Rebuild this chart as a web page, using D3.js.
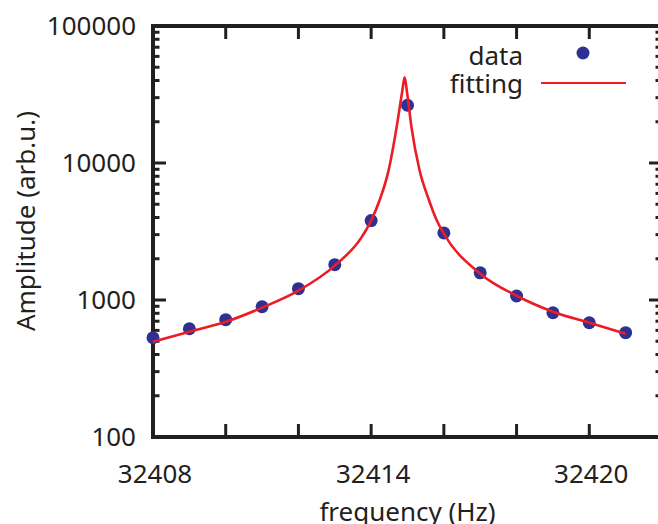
<!DOCTYPE html>
<html>
<head>
<meta charset="utf-8">
<script src="https://cdn.jsdelivr.net/npm/d3@7"></script>
<style>
  html, body { margin: 0; padding: 0; background: #fff; }
  svg { display: block; font-family: "Noto Sans", "Open Sans", sans-serif; }
</style>
</head>
<body>
<svg id="chart"></svg>
<script>
// measured points (frequency in Hz, amplitude in arb.u.)
const dataFreq = [32408, 32409, 32410, 32411, 32412, 32413, 32414, 32415, 32416, 32417, 32418, 32419, 32420, 32421];
const dataAmp  = [530, 617, 718, 893, 1210, 1812, 3800, 26400, 3090, 1580, 1070, 807, 682, 577];

// fitted curve
const fitFreq = [32408.0, 32409.0, 32410.0, 32411.0, 32412.0, 32413.0, 32413.73, 32414.0, 32414.23, 32414.48, 32414.70, 32414.86, 32414.92, 32414.99, 32415.11, 32415.33, 32415.58, 32415.80, 32416.0, 32417.0, 32418.0, 32419.0, 32420.0, 32421.0];
const fitAmp  = [495, 586, 693, 879, 1170, 1782, 2855, 3800, 5320, 8830, 18200, 34000, 42300, 32400, 18200, 8890, 5460, 3840, 3055, 1556, 1074, 821, 682, 567];

const xTicks = [32408, 32410, 32412, 32414, 32416, 32418, 32420, 32422];
const xLabels = [32408, 32414, 32420];
const yLabels = [100, 1000, 10000, 100000];

const width = 658, height = 524;
const ink = "#231f20";
const blue = "#2e3192";
const red = "#ed1c24";

const svg = d3.select("#chart")
    .attr("width", width)
    .attr("height", height)
    .attr("viewBox", [0, 0, width, height]);

const x = d3.scaleLinear()
    .domain([32408, 32422])
    .range([153, 662]);

const y = d3.scaleLog()
    .domain([100, 100000])
    .range([437, 26]);

// minor ticks on the log axis (2..9 of each decade)
const yMinor = y.ticks().filter(v => !yLabels.includes(v));

const ticks = svg.append("g")
    .attr("stroke", ink)
    .attr("stroke-width", 3);

// x ticks, bottom and top (inside)
ticks.append("g").selectAll("line")
    .data(xTicks.slice(1, -1))
    .join("line")
    .attr("x1", d => x(d)).attr("x2", d => x(d))
    .attr("y1", y(100)).attr("y2", y(100) - 13);

ticks.append("g").selectAll("line")
    .data(xTicks.slice(1, -1))
    .join("line")
    .attr("x1", d => x(d)).attr("x2", d => x(d))
    .attr("y1", y(100000)).attr("y2", y(100000) + 13);

// y ticks, left and right
[[x.range()[0], 1], [x.range()[1], -1]].forEach(([x0, dir]) => {
    ticks.append("g").selectAll("line")
        .data(yLabels.slice(1, -1))
        .join("line")
        .attr("x1", x0).attr("x2", x0 + dir * 13)
        .attr("y1", d => y(d)).attr("y2", d => y(d));
    ticks.append("g").selectAll("line")
        .data(yMinor)
        .join("line")
        .attr("x1", x0).attr("x2", x0 + dir * 6.5)
        .attr("y1", d => y(d)).attr("y2", d => y(d));
});

// frame
svg.append("rect")
    .attr("x", x.range()[0])
    .attr("y", y.range()[1])
    .attr("width", x.range()[1] - x.range()[0])
    .attr("height", y.range()[0] - y.range()[1])
    .attr("fill", "none")
    .attr("stroke", ink)
    .attr("stroke-width", 4);

// tick labels
svg.append("g")
    .attr("fill", ink)
    .style("font-size", "26px")
    .attr("text-anchor", "end")
    .selectAll("text")
    .data(yLabels)
    .join("text")
    .attr("x", 136)
    .attr("y", d => y(d) + 9)
    .text(d => d);

svg.append("g")
    .attr("fill", ink)
    .style("font-size", "26px")
    .attr("text-anchor", "middle")
    .selectAll("text")
    .data(xLabels)
    .join("text")
    .attr("x", d => x(d) + 2)
    .attr("y", 483)
    .text(d => d);

// axis titles
svg.append("text")
    .attr("fill", ink)
    .style("font-size", "26px")
    .attr("text-anchor", "middle")
    .attr("x", (x.range()[0] + x.range()[1]) / 2)
    .attr("y", 521)
    .text("frequency (Hz)");

svg.append("text")
    .attr("fill", ink)
    .style("font-size", "26px")
    .attr("text-anchor", "middle")
    .attr("transform", "translate(35,221) rotate(-90)")
    .text("Amplitude (arb.u.)");

// data points
const points = dataFreq.map((f, i) => ({f, a: dataAmp[i]}));
svg.append("g")
    .attr("fill", blue)
    .selectAll("circle")
    .data(points)
    .join("circle")
    .attr("cx", d => x(d.f))
    .attr("cy", d => y(d.a))
    .attr("r", 6.5);

// fitted curve, drawn over the points
const fit = fitFreq.map((f, i) => ({f, a: fitAmp[i]}));
const line = d3.line()
    .x(d => x(d.f))
    .y(d => y(d.a))
    .curve(d3.curveMonotoneX);

svg.append("path")
    .datum(fit)
    .attr("fill", "none")
    .attr("stroke", red)
    .attr("stroke-width", 2.6)
    .attr("stroke-linejoin", "round")
    .attr("d", line);

// legend
const legend = svg.append("g").style("font-size", "26px").attr("fill", ink);
legend.append("text")
    .attr("x", 523).attr("y", 65)
    .attr("text-anchor", "end")
    .text("data");
legend.append("circle")
    .attr("cx", 583).attr("cy", 53)
    .attr("r", 6.5)
    .attr("fill", blue);
legend.append("text")
    .attr("x", 523).attr("y", 93)
    .attr("text-anchor", "end")
    .text("fitting");
legend.append("line")
    .attr("x1", 541).attr("x2", 626)
    .attr("y1", 83).attr("y2", 83)
    .attr("stroke", red)
    .attr("stroke-width", 2);
</script>
</body>
</html>
